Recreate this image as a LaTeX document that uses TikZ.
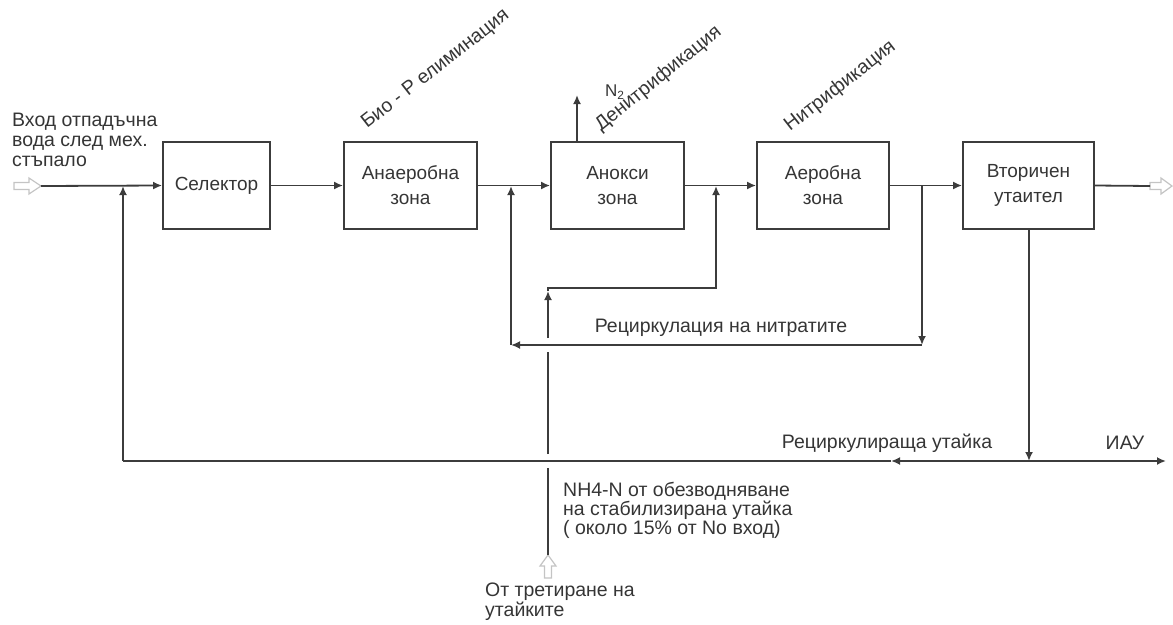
\documentclass[tikz,border=0pt]{standalone}
\usepackage{fontspec}
\setmainfont{Liberation Sans}
\usetikzlibrary{arrows.meta}
\definecolor{ln}{HTML}{3C3C3C}
\definecolor{txt}{HTML}{353535}
\definecolor{hol}{HTML}{C4C4C4}
\begin{document}
\begin{tikzpicture}[x=1pt,y=-1pt,
  every node/.style={font=\fontsize{19.5}{20}\selectfont, text=txt, inner sep=0pt},
  box/.style={draw=ln, line width=1.8pt, minimum height=87pt, align=center,
    font=\fontsize{19}{25}\selectfont},
  flow/.style={draw=ln, line width=1.8pt, line join=miter},
  arr/.style={flow, -{Latex[length=9pt,width=8pt]}},
  hollow/.style={draw=hol, fill=white, line width=1.2pt},
  rlabel/.style={anchor=base west}
]
\useasboundingbox (0,0) rectangle (1173,624);

% boxes
\node[box, minimum width=107pt] (sel)  at (216.5,185.5) {Селектор};
\node[box, minimum width=133pt] (ana)  at (410.5,185.5) {Анаеробна\\зона};
\node[box, minimum width=133pt] (anox) at (617.5,185.5) {Анокси\\зона};
\node[box, minimum width=132pt] (aer)  at (823,185.5)   {Аеробна\\зона};
\node[box, minimum width=131pt] (vt)   at (1028.5,185.5){Вторичен\\утаител};

% coordinates
\coordinate (inA)  at (41,186);
\coordinate (outA) at (1150,186);
\coordinate (j1) at (123,186);
\coordinate (c1) at (123,461);
\coordinate (j2) at (511,186);
\coordinate (c2) at (511,345);
\coordinate (j3) at (922,186);
\coordinate (c3) at (922,345);
\coordinate (j4) at (716,186);
\coordinate (c4) at (716,288);
\coordinate (c5) at (548,288);
\coordinate (vtd) at (1029,461);
\coordinate (iau) at (1166,461);
\coordinate (m1) at (891,461);
\coordinate (n2) at (577,95);
\coordinate (bin) at (548,555);
\coordinate (g1) at (548,468);
\coordinate (g2) at (548,454);
\coordinate (g3) at (548,352);
\coordinate (g4) at (548,338);
\coordinate (g5) at (548,291);

% hollow arrows
\draw[hollow] (14,182.5)--(29,182.5)--(29,178)--(41,186)--(29,194)--(29,189.5)--(14,189.5)--cycle;
\draw[hollow] (1150,182.5)--(1161,182.5)--(1161,178)--(1172,186)--(1161,194)--(1161,189.5)--(1150,189.5)--cycle;
\draw[hollow] (544.5,578)--(544.5,566)--(540,566)--(548,555)--(556,566)--(551.5,566)--(551.5,578)--cycle;

% main flow
\draw[arr] (inA) -- (sel.west);
\draw[arr] (sel.east) -- (ana.west);
\draw[arr] (ana.east) -- (anox.west);
\draw[arr] (anox.east) -- (aer.west);
\draw[arr] (aer.east) -- (vt.west);
\draw[flow] (vt.east) -- (outA);
\draw[arr] (anox.north -| n2) -- (n2);

% sludge recirculation
\draw[arr] (vt.south -| vtd) -- (vtd);
\draw[arr] (vtd) -- (iau);
\draw[arr] (vtd) -- (m1);
\draw[flow] (m1) -- (c1);
\draw[arr] (c1) -- (j1);

% nitrate recirculation
\draw[arr] (j3) -- (c3);
\draw[arr] (c3) -- (c2);
\draw[arr] (c2) -- (j2);

% NH4-N feed
\draw[flow] (bin) -- (g1);
\draw[flow] (g2) -- (g3);
\draw[arr] (g4) -- (g5);
\draw[arr] (g5) -- (c5) -- (c4) -- (j4);

% labels
\node[anchor=north west, align=left] (intxt) at (12,113) {Вход отпадъчна\\вода след мех.\\стъпало};
\node[rlabel, rotate=38] (bio) at (367,129) {Био - Р елиминация};
\node[rlabel, rotate=39] (den) at (601,132) {Денитрификация};
\node[rlabel, rotate=38] (nit) at (790,132) {Нитрификация};
\node[anchor=west, font=\fontsize{17}{18}\selectfont] (n2t) at (605,92) {N\textsubscript{2}};
\node (rn) at (721,328) {Рециркулация на нитратите};
\node (ru) at (887,443) {Рециркулираща утайка};
\node (iaut) at (1125,443) {ИАУ};
\node[anchor=north west, align=left, font=\fontsize{19.5}{19}\selectfont] (nh4) at (563,482)
  {NH4-N от обезводняване\\на стабилизирана утайка\\( около 15\% от No вход)};
\node[anchor=north west, align=left] (ot) at (485,583) {От третиране на\\утайките};
\end{tikzpicture}
\end{document}
